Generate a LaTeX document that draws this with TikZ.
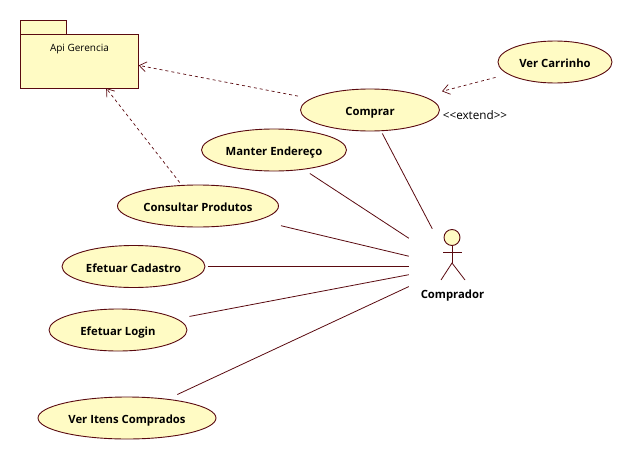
\documentclass[tikz,border=0pt]{standalone}
\usepackage{fontspec}
\setmainfont{Open Sans}
\usetikzlibrary{arrows.meta}
\definecolor{umlline}{HTML}{5A0A10}
\definecolor{umlfill}{HTML}{FFFBC4}

\begin{document}
\begin{tikzpicture}[%
    x=1pt, y=-1pt,              % Pixel units, y runs downwards as in the screenshot
    >={Straight Barb[length=7pt,width=10pt]},
    ]
% -------------------------------------------------
% A few box styles
\tikzset{
  usecase/.style={rectangle, inner sep=0pt, outer sep=1.5pt, minimum height=44pt,
    minimum width=#1, font=\fontsize{11.3}{12}\selectfont\bfseries,
    text height=11pt, text depth=0pt,
    path picture={\draw[umlline, fill=umlfill, line width=0.9pt]
      (path picture bounding box.center) ellipse [x radius=#1/2-1, y radius=21];}},
  pack/.style={rectangle, draw=umlline, fill=umlfill, line width=0.9pt, inner sep=0pt},
  txt/.style={inner sep=0pt, font=\fontsize{10}{12}\selectfont, text height=11pt, text depth=0pt},
  bold/.style={txt, font=\fontsize{11.3}{12}\selectfont\bfseries},
  % Connector line styles
  assoc/.style={draw=umlline, line width=0.8pt},
  dep/.style={->, draw=umlline, line width=0.7pt, dash pattern=on 3pt off 3pt}
}
\useasboundingbox (0,0) rectangle (636,460);
% -------------------------------------------------
% Package
\node [inner sep=0pt, minimum width=118pt, minimum height=68pt] (api) at (79.5,54) {};
\node [pack, minimum width=46pt, minimum height=14pt] (apitab) at (43.5,27) {};
\node [pack, minimum width=118pt, minimum height=54pt] (apibody) at (79.5,61) {};
\node [txt] (apilabel) at (79.5,46) {Api Gerencia};
% -------------------------------------------------
% Use cases
\node [usecase=141] (comprar) at (370,110) {Comprar};
\node [usecase=116] (carrinho) at (555,62) {Ver Carrinho};
\node [usecase=147] (endereco) at (274,150) {Manter Endereço};
\node [usecase=163] (produtos) at (198,206) {Consultar Produtos};
\node [usecase=145] (cadastro) at (133.5,266.5) {Efetuar Cadastro};
\node [usecase=140] (login) at (118,330) {Efetuar Login};
\node [usecase=180] (itens) at (127,418) {Ver Itens Comprados};
\node [txt, font=\fontsize{11.7}{12}\selectfont] (extend) at (475,114) {{<}{<}extend{>}{>}};
% -------------------------------------------------
% Actor
\node [inner sep=0pt, minimum width=86pt, minimum height=75pt] (comprador) at (452,266.5) {};
\node [circle, draw=umlline, fill=umlfill, line width=0.9pt, inner sep=0pt,
       minimum size=16pt] (cabeca) at (452,237.5) {};
\coordinate (quadril) at (452,263);
\coordinate (bracoe) at (443,252);
\coordinate (bracod) at (462,252);
\coordinate (pernae) at (441,280);
\coordinate (pernad) at (465,280);
\node [bold] (compradorlabel) at (452.5,293) {Comprador};
\draw[assoc] (cabeca) -- (quadril);
\draw[assoc] (bracoe) -- (bracod);
\draw[assoc] (pernae) -- (quadril) -- (pernad);
% -------------------------------------------------
% Connectors
\draw[assoc] (comprar) -- (comprador);
\draw[assoc] (endereco) -- (comprador);
\draw[assoc] (produtos) -- (comprador);
\draw[assoc] (cadastro) -- (comprador);
\draw[assoc] (login) -- (comprador);
\draw[assoc] (itens) -- (comprador);
\draw[dep] (comprar) -- (api);
\draw[dep] (produtos) -- (api);
\draw[dep] (carrinho) -- (comprar);
% -------------------------------------------------
\end{tikzpicture}
\end{document}
